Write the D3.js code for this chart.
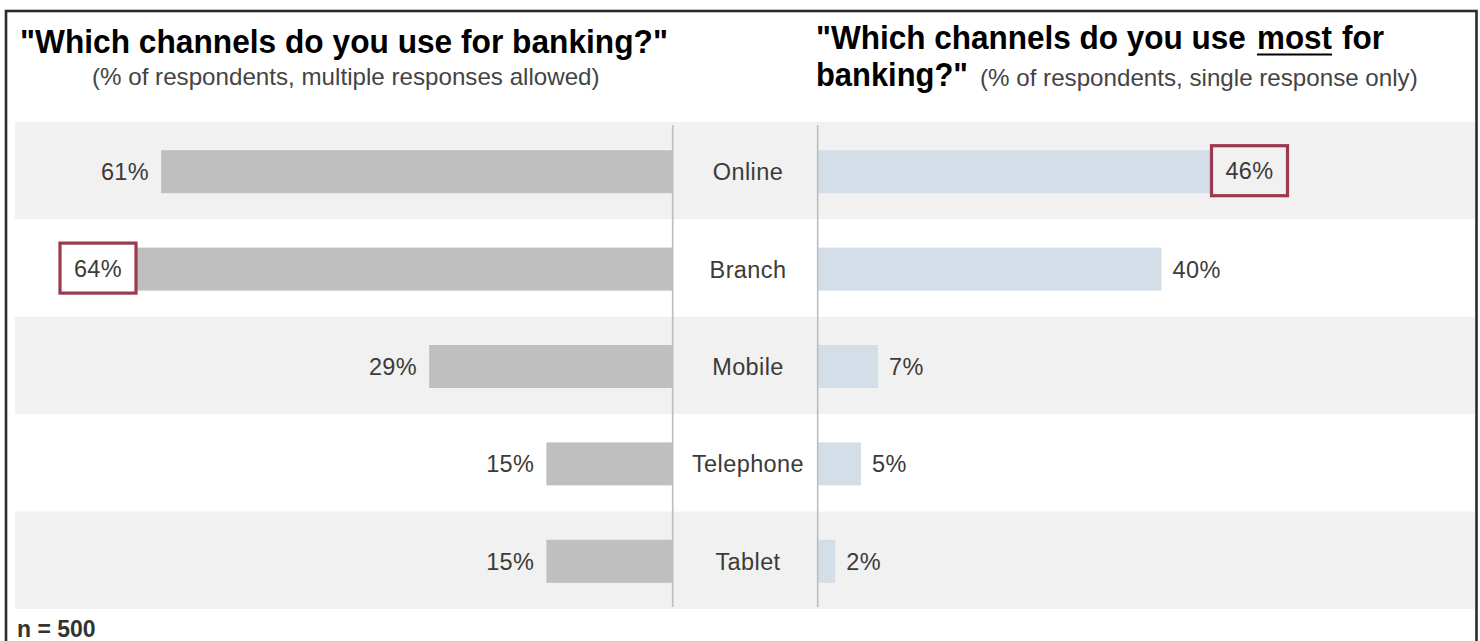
<!DOCTYPE html>
<html>
<head>
<meta charset="utf-8">
<script src="https://cdn.jsdelivr.net/npm/d3@7"></script>
<style>
  html, body { margin: 0; padding: 0; background: #ffffff; }
  svg { display: block; font-family: "Liberation Sans", Arial, sans-serif; }
</style>
</head>
<body>
<svg id="chart" width="1480" height="641"></svg>
<script>
// Survey channels and response shares (%)
const categories = ["Online", "Branch", "Mobile", "Telephone", "Tablet"];
const useAny = [61, 64, 29, 15, 15];      // multiple responses allowed
const useMost = [46, 40, 7, 5, 2];        // single response only
const sampleLabel = "n = 500";

const svg = d3.select("#chart");

const textColor = "#3d3a38";
const bandColor = "#f1f1f1";
const leftBarColor = "#bfbfbf";
const rightBarColor = "#d3dee8";
const highlightColor = "#9b3a4f";
const labelSize = 23.5;

// Row bands
const y = d3.scaleBand().domain(categories).range([122, 609]).padding(0);
const barH = 43;
const barY = d => y(d) + (y.bandwidth() - barH) / 2 + 1;

// Left panel grows leftward from the centre column, right panel grows rightward
const xLeft = d3.scaleLinear().domain([0, 64]).range([672, 136]);
const xRight = d3.scaleLinear().domain([0, 46]).range([818, 1213]);

// Alternating background bands
svg.append("g").selectAll("rect")
  .data(categories)
  .join("rect")
  .attr("x", 15)
  .attr("y", d => y(d))
  .attr("width", 1475 - 15)
  .attr("height", y.bandwidth())
  .attr("fill", (d, i) => i % 2 === 0 ? bandColor : "#ffffff");

// Left bars
svg.append("g").selectAll("rect")
  .data(categories)
  .join("rect")
  .attr("x", (d, i) => xLeft(useAny[i]))
  .attr("y", d => barY(d))
  .attr("width", (d, i) => xLeft(0) - xLeft(useAny[i]))
  .attr("height", barH)
  .attr("fill", leftBarColor);

// Right bars
svg.append("g").selectAll("rect")
  .data(categories)
  .join("rect")
  .attr("x", xRight(0))
  .attr("y", d => barY(d))
  .attr("width", (d, i) => xRight(useMost[i]) - xRight(0))
  .attr("height", barH)
  .attr("fill", rightBarColor);

// Divider lines framing the category column
svg.append("g").selectAll("line")
  .data([xLeft(0) + 0.7, xRight(0) - 0.3])
  .join("line")
  .attr("x1", d => d).attr("x2", d => d)
  .attr("y1", 125).attr("y2", 607)
  .attr("stroke", "#bdbdbd")
  .attr("stroke-width", 1.6);

// Category labels
svg.append("g").selectAll("text")
  .data(categories)
  .join("text")
  .attr("x", (xLeft(0) + xRight(0)) / 2 + 3)
  .attr("y", d => barY(d) + barH / 2)
  .attr("dy", "0.36em")
  .attr("text-anchor", "middle")
  .attr("font-size", labelSize)
  .attr("letter-spacing", 0.4)
  .attr("fill", textColor)
  .text(d => d);

const leftMax = d3.maxIndex(useAny);
const rightMax = d3.maxIndex(useMost);
const boxW = 76, boxH = 50;

// Left value labels (max value boxed)
const leftLabels = svg.append("g");
categories.forEach((c, i) => {
  const cy = barY(c) + barH / 2;
  const x0 = xLeft(useAny[i]);
  if (i === leftMax) {
    leftLabels.append("rect")
      .attr("x", x0 - boxW).attr("y", cy - boxH / 2 - 1)
      .attr("width", boxW).attr("height", boxH)
      .attr("fill", "#ffffff")
      .attr("stroke", highlightColor).attr("stroke-width", 3.2);
    leftLabels.append("text")
      .attr("x", x0 - boxW / 2).attr("y", cy - 1)
      .attr("dy", "0.36em").attr("text-anchor", "middle")
      .attr("font-size", labelSize).attr("letter-spacing", 0.4).attr("fill", textColor)
      .text(useAny[i] + "%");
  } else {
    leftLabels.append("text")
      .attr("x", x0 - 12).attr("y", cy)
      .attr("dy", "0.36em").attr("text-anchor", "end")
      .attr("font-size", labelSize).attr("letter-spacing", 0.4).attr("fill", textColor)
      .text(useAny[i] + "%");
  }
});

// Right value labels (max value boxed)
const rightLabels = svg.append("g");
categories.forEach((c, i) => {
  const cy = barY(c) + barH / 2;
  const x1 = xRight(useMost[i]);
  if (i === rightMax) {
    rightLabels.append("rect")
      .attr("x", x1 - 1.5).attr("y", cy - boxH / 2 - 1)
      .attr("width", boxW).attr("height", boxH)
      .attr("fill", bandColor)
      .attr("stroke", highlightColor).attr("stroke-width", 3.2);
    rightLabels.append("text")
      .attr("x", x1 - 1.5 + boxW / 2).attr("y", cy - 1)
      .attr("dy", "0.36em").attr("text-anchor", "middle")
      .attr("font-size", labelSize).attr("letter-spacing", 0.4).attr("fill", textColor)
      .text(useMost[i] + "%");
  } else {
    rightLabels.append("text")
      .attr("x", x1 + 11).attr("y", cy)
      .attr("dy", "0.36em").attr("text-anchor", "start")
      .attr("font-size", labelSize).attr("letter-spacing", 0.4).attr("fill", textColor)
      .text(useMost[i] + "%");
  }
});

// Text squeezed horizontally to a given width, starting at x
function fittedText(x, yPos, width, str, size, bold, color) {
  const t = svg.append("text")
    .attr("font-size", size)
    .attr("font-weight", bold ? "bold" : "normal")
    .attr("fill", color)
    .text(str);
  const natural = t.node().getComputedTextLength();
  t.attr("transform", `translate(${x},${yPos}) scale(${width / natural},1)`);
  return t;
}

// Left title
fittedText(20, 53, 648, '"Which channels do you use for banking?"', 34, true, "#000");
fittedText(92, 85, 508, "(% of respondents, multiple responses allowed)", 23, false, "#444");

// Right title, first line split around the underlined word
fittedText(816, 49, 430, '"Which channels do you use', 34, true, "#000");
fittedText(1257, 49, 75, "most", 34, true, "#000");
fittedText(1342, 49, 42, "for", 34, true, "#000");
svg.append("line")
  .attr("x1", 1257).attr("x2", 1332)
  .attr("y1", 54.5).attr("y2", 54.5)
  .attr("stroke", "#000").attr("stroke-width", 2.2);

fittedText(816, 86, 152, 'banking?"', 34, true, "#000");
fittedText(980, 86, 438, "(% of respondents, single response only)", 23, false, "#444");

// Sample size note
svg.append("text")
  .attr("x", 17).attr("y", 637)
  .attr("font-size", 23).attr("font-weight", "bold").attr("fill", "#333")
  .text(sampleLabel);

// Outer frame
svg.append("rect")
  .attr("x", 6).attr("y", 11)
  .attr("width", 1470.5).attr("height", 700)
  .attr("fill", "none")
  .attr("stroke", "#2b2b2b").attr("stroke-width", 2.6);
</script>
</body>
</html>
